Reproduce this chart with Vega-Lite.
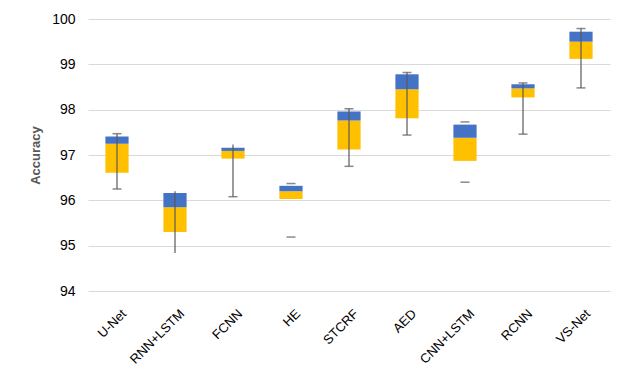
{
  "$schema": "https://vega.github.io/schema/vega-lite/v6.json",
  "autosize": "none",
  "width": 522,
  "height": 272,
  "padding": {"left": 88, "top": 19, "right": 20, "bottom": 87},
  "background": "white",
  "config": {
    "view": {"stroke": null},
    "font": "Liberation Sans",
    "axis": {"labelFont": "Liberation Sans", "titleFont": "Liberation Sans"}
  },
  "data": {
    "values": [
      {"model": "U-Net", "q1": 96.61, "median": 97.25, "q3": 97.41, "lineLow": 96.25, "lineHigh": 97.47, "capLow": 96.25, "capHigh": 97.47},
      {"model": "RNN+LSTM", "q1": 95.30, "median": 95.85, "q3": 96.16, "lineLow": 94.84, "lineHigh": 96.20, "capLow": null, "capHigh": null},
      {"model": "FCNN", "q1": 96.92, "median": 97.09, "q3": 97.16, "lineLow": 96.08, "lineHigh": 97.23, "capLow": 96.08, "capHigh": null},
      {"model": "HE", "q1": 96.03, "median": 96.20, "q3": 96.32, "lineLow": null, "lineHigh": null, "capLow": 95.19, "capHigh": 96.37},
      {"model": "STCRF", "q1": 97.12, "median": 97.76, "q3": 97.96, "lineLow": 96.75, "lineHigh": 98.02, "capLow": 96.75, "capHigh": 98.02},
      {"model": "AED", "q1": 97.81, "median": 98.45, "q3": 98.78, "lineLow": 97.44, "lineHigh": 98.82, "capLow": 97.44, "capHigh": 98.82},
      {"model": "CNN+LSTM", "q1": 96.87, "median": 97.38, "q3": 97.67, "lineLow": null, "lineHigh": null, "capLow": 96.40, "capHigh": 97.73},
      {"model": "RCNN", "q1": 98.27, "median": 98.47, "q3": 98.56, "lineLow": 97.46, "lineHigh": 98.59, "capLow": 97.46, "capHigh": 98.59},
      {"model": "VS-Net", "q1": 99.12, "median": 99.50, "q3": 99.72, "lineLow": 98.48, "lineHigh": 99.79, "capLow": 98.48, "capHigh": 99.79}
    ]
  },
  "encoding": {
    "x": {
      "field": "model", "type": "nominal", "sort": null,
      "scale": {"paddingInner": 0, "paddingOuter": 0},
      "axis": {"title": null, "labelAngle": -45, "labelAlign": "right", "labelBaseline": "top", "labelPadding": 16, "labelOffset": 3, "labelFontSize": 13, "labelColor": "#000000", "domain": false, "ticks": false, "grid": false}
    }
  },
  "layer": [
    {
      "mark": {"type": "bar", "color": "#FFC000", "width": {"band": 0.4}},
      "encoding": {
        "y": {"field": "q1", "type": "quantitative", "scale": {"domain": [94, 100], "nice": false, "zero": false},
          "axis": {"title": "Accuracy", "values": [94, 95, 96, 97, 98, 99, 100], "grid": true, "gridColor": "#d9d9d9", "gridWidth": 1, "domain": false, "ticks": false, "labelPadding": 13, "labelFontSize": 14, "labelColor": "#000000", "titleFontSize": 13, "titleFontWeight": "bold", "titleColor": "#595959", "titlePadding": 9}},
        "y2": {"field": "median"}
      }
    },
    {
      "mark": {"type": "bar", "color": "#4472C4", "width": {"band": 0.4}},
      "encoding": {
        "y": {"field": "median", "type": "quantitative"},
        "y2": {"field": "q3"}
      }
    },
    {
      "mark": {"type": "rule", "color": "#595959", "strokeWidth": 1.2},
      "encoding": {
        "y": {"field": "lineLow", "type": "quantitative"},
        "y2": {"field": "lineHigh"}
      }
    },
    {
      "mark": {"type": "tick", "orient": "horizontal", "color": "#595959", "size": 9, "thickness": 1.5},
      "encoding": {
        "y": {"field": "capLow", "type": "quantitative"}
      }
    },
    {
      "mark": {"type": "tick", "orient": "horizontal", "color": "#595959", "size": 9, "thickness": 1.5},
      "encoding": {
        "y": {"field": "capHigh", "type": "quantitative"}
      }
    }
  ]
}
